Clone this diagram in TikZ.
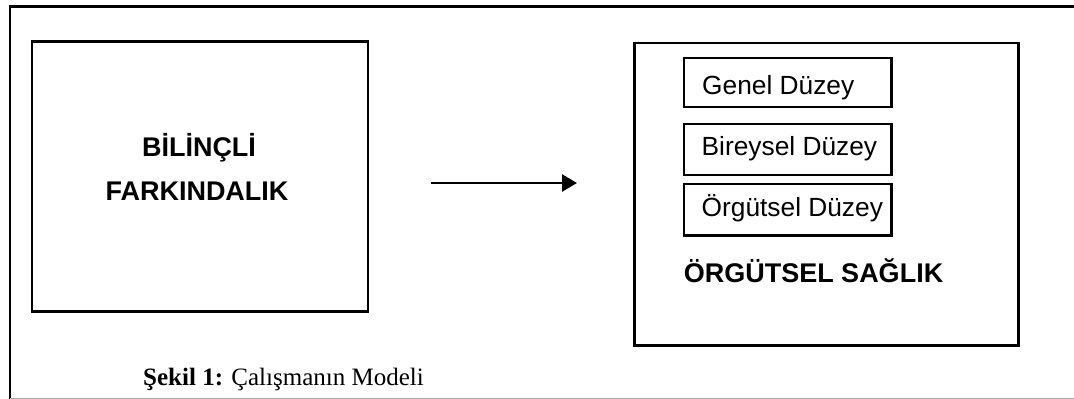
\documentclass[tikz,border=0pt]{standalone}
\usepackage{fontspec}
\setmainfont{Liberation Serif}
\newfontfamily\arialfont{Liberation Sans}
\usetikzlibrary{arrows.meta}

\tikzset{
  frame/.style={line width=2.3pt, black},
  boxline/.style={draw, line width=2.4pt, black},
  level/.style={anchor=base west, inner sep=0pt, font=\arialfont\fontsize{26.3}{30}\selectfont},
  heading/.style={anchor=base, inner sep=0pt, font=\arialfont\bfseries\fontsize{27}{32}\selectfont},
  caption/.style={anchor=base west, inner sep=0pt, font=\fontsize{25}{30}\selectfont},
  flow/.style={line width=2.6pt, -{Triangle[length=15pt, width=17pt]}}
}

\begin{document}
\begin{tikzpicture}[x=1pt, y=-1pt]
  \useasboundingbox (0,0) rectangle (1074,399);

  % outer frame (open on the right)
  \draw[frame] (1074,6.5) -- (10,6.5) -- (10,398.5);
  \draw[gray!70, line width=1.2pt] (10,398.5) -- (1074,398.5);

  % left block
  \draw[boxline] (32,41.5) rectangle (368,311.5);
  \node[heading] (t1) at (199,156.5) {BİLİNÇLİ};
  \node[heading] (t2) at (197,200) {FARKINDALIK};

  % connector
  \coordinate (from) at (431,183);
  \coordinate (to) at (577,183);
  \draw[flow] (from) -- (to);

  % right block
  \draw[boxline] (634.5,43) rectangle (1018.5,345.5);
  \draw[boxline] (684,58) rectangle (891.5,107);
  \draw[boxline] (684,124) rectangle (891.5,174.7);
  \draw[boxline] (684,183.7) rectangle (891.5,235.5);
  \node[level] (g) at (702,94.3) {Genel Düzey};
  \node[level] (b) at (701.5,155) {Bireysel Düzey};
  \node[level] (o) at (701.5,216.7) {Örgütsel Düzey};
  \node[heading] (os) at (813.5,282.5) {ÖRGÜTSEL SAĞLIK};

  % caption
  \node[caption] (cap) at (143,385) {\textbf{Şekil 1:} Çalışmanın Modeli};
\end{tikzpicture}
\end{document}
